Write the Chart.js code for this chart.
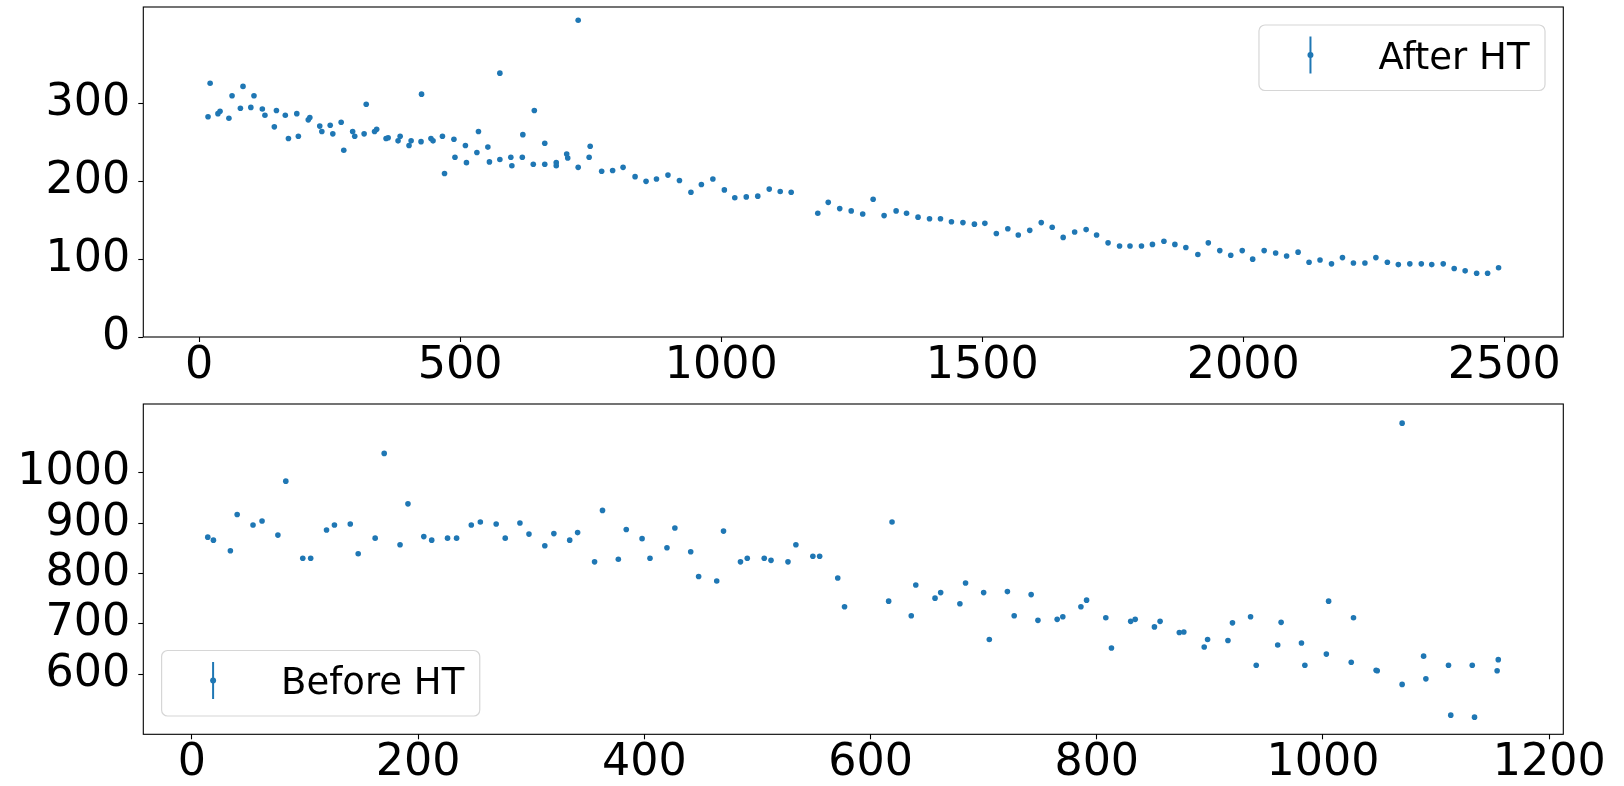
<!DOCTYPE html>
<html>
<head>
<meta charset="utf-8">
<script src="https://cdn.jsdelivr.net/npm/chart.js@4/dist/chart.umd.min.js"></script>
<style>
  html, body { margin: 0; padding: 0; background: #fff; }
  .panel { position: absolute; left: 0; width: 1624px; height: 393px; }
  #top-panel { top: 0; }
  #bottom-panel { top: 393px; }
</style>
</head>
<body>
<div class="panel" id="top-panel"><canvas id="afterChart" width="1624" height="393"></canvas></div>
<div class="panel" id="bottom-panel"><canvas id="beforeChart" width="1624" height="393"></canvas></div>
<script>
// After HT (top panel)
const afterX = [17,21,36,40,57,63,79,84,99,105,121,126,144,148,165,171,187,190,209,212,
  231,235,251,256,272,277,294,298,316,320,336,340,358,362,381,385,402,406,425,426,
  444,448,466,470,488,490,510,512,532,535,553,556,576,576,597,599,619,620,640,642,
  662,662,684,684,704,706,726,726,747,749,771,792,812,835,856,876,898,920,942,962,
  984,1006,1026,1048,1070,1092,1113,1134,1185,1205,1227,1249,1271,1291,1312,1335,1355,1377,1399,1420,
  1441,1463,1485,1505,1527,1549,1569,1591,1613,1634,1655,1677,1699,1719,1741,1763,1783,1805,1826,1848,
  1869,1890,1913,1933,1955,1976,1998,2018,2040,2062,2083,2105,2126,2147,2169,2190,2211,2233,2254,2276,
  2297,2319,2341,2361,2383,2404,2425,2447,2468,2489];
const afterY = [283,326,287,290,281,310,294,322,295,310,293,285,270,291,285,255,287,258,279,282,
  271,264,272,261,276,240,264,258,261,299,264,267,255,256,252,258,246,252,251,312,
  255,252,258,210,254,231,246,224,237,264,244,225,228,339,231,220,231,260,222,291,
  222,249,224,220,235,230,407,218,231,245,213,214,218,206,200,203,208,201,186,196,
  203,189,179,180,181,190,187,186,159,173,165,162,158,177,156,162,159,154,152,152,
  148,147,145,146,133,139,131,137,147,141,128,135,138,131,121,117,117,117,119,123,
  119,115,106,121,111,105,111,100,111,108,104,109,96,99,94,102,95,95,102,96,
  93,94,94,93,94,88,85,82,82,89];

// Before HT (bottom panel)
const beforeX = [14,19,34,40,54,62,76,83,98,105,119,126,140,147,162,170,184,191,205,212,
  226,234,247,255,269,277,290,298,312,320,334,341,356,363,377,384,398,405,420,427,
  441,448,464,470,485,491,506,512,527,534,549,555,571,577,616,619,636,640,657,662,
  679,684,700,705,721,727,742,748,765,770,786,791,808,813,830,834,851,856,873,877,
  895,898,916,920,936,941,960,963,981,984,1003,1005,1025,1027,1047,1048,1070,1070,1089,1091,
  1111,1113,1132,1134,1154,1155];
const beforeY = [872,866,845,917,896,904,876,983,830,830,886,896,898,839,870,1038,857,938,873,866,
  870,870,896,902,898,870,900,878,855,879,866,881,823,925,828,887,869,830,851,890,
  843,794,785,884,823,830,830,826,823,857,834,834,791,734,745,902,716,777,751,762,
  740,781,762,669,764,716,758,707,709,714,734,747,712,652,705,709,694,705,683,684,
  654,669,667,702,714,618,658,703,662,618,640,745,624,712,608,607,1098,580,636,591,
  618,519,618,515,607,629];

// Tick labels
const afterXTicks = [0, 500, 1000, 1500, 2000, 2500];
const afterYTicks = [0, 100, 200, 300];
const beforeXTicks = [0, 200, 400, 600, 800, 1000, 1200];
const beforeYTicks = [600, 700, 800, 900, 1000];

const BLUE = '#1f77b4';
const FONT = 'DejaVu Sans';

// box around the axes + matplotlib-style errorbar legend
const frameLegend = {
  id: 'frameLegend',
  afterDraw(chart, args, opts) {
    const ctx = chart.ctx;
    const a = chart.chartArea;
    ctx.save();
    ctx.strokeStyle = '#000';
    ctx.lineWidth = 1.1;
    ctx.strokeRect(a.left, a.top, a.right - a.left, a.bottom - a.top);

    ctx.font = '37px "' + FONT + '"';
    const tw = ctx.measureText(opts.label).width;
    const w = 119.5 + tw + 15.5;
    const h = 65.5;
    const x = opts.corner === 'upper right' ? a.right - 18.3 - w : a.left + 18.3;
    const y = opts.corner === 'upper right' ? a.top + 18 : a.bottom - 18.3 - h;

    ctx.beginPath();
    ctx.roundRect(x, y, w, h, 6);
    ctx.fillStyle = 'rgba(255,255,255,0.8)';
    ctx.fill();
    ctx.strokeStyle = '#d6d6d6';
    ctx.lineWidth = 1.2;
    ctx.stroke();

    const mx = x + 51.5;
    ctx.strokeStyle = BLUE;
    ctx.lineWidth = 2;
    ctx.beginPath();
    ctx.moveTo(mx, y + 11.5);
    ctx.lineTo(mx, y + 48.5);
    ctx.stroke();
    ctx.fillStyle = BLUE;
    ctx.beginPath();
    ctx.arc(mx, y + 30, 3, 0, Math.PI * 2);
    ctx.fill();

    ctx.fillStyle = '#000';
    ctx.textBaseline = 'alphabetic';
    ctx.textAlign = 'left';
    ctx.fillText(opts.label, x + 119.5, y + 43.5);
    ctx.restore();
  }
};

const makeChart = (canvasId, xs, ys, xTicks, yTicks, xRange, yRange, padTop, xAxisHeight, legend) => {
  const points = xs.map((x, i) => ({ x: x, y: ys[i] }));
  const tickFont = { family: FONT, size: 44.4, lineHeight: 1 };
  const grid = {
    display: true,
    drawOnChartArea: false,
    drawTicks: true,
    tickLength: 5,
    tickColor: '#000',
    tickWidth: 1.1
  };
  const plain = (v) => String(v);
  return new Chart(document.getElementById(canvasId), {
    type: 'scatter',
    data: {
      datasets: [{
        data: points,
        backgroundColor: BLUE,
        borderWidth: 0,
        pointRadius: 2.8,
        pointHoverRadius: 2.8
      }]
    },
    options: {
      responsive: false,
      animation: false,
      layout: { padding: { top: padTop, right: 60.7, left: 0, bottom: 0 } },
      plugins: {
        legend: { display: false },
        tooltip: { enabled: false },
        frameLegend: legend
      },
      scales: {
        x: {
          type: 'linear',
          min: xRange[0],
          max: xRange[1],
          grid: grid,
          border: { display: false },
          ticks: { font: tickFont, color: '#000', padding: 2, autoSkip: false, maxRotation: 0, callback: plain },
          afterBuildTicks: (scale) => { scale.ticks = xTicks.map(v => ({ value: v })); },
          afterFit: (scale) => {
            scale.height = xAxisHeight;
            scale.paddingLeft = 0;
            scale.paddingRight = 0;
          }
        },
        y: {
          type: 'linear',
          min: yRange[0],
          max: yRange[1],
          grid: grid,
          border: { display: false },
          ticks: { font: tickFont, color: '#000', padding: 8, callback: plain },
          afterBuildTicks: (scale) => { scale.ticks = yTicks.map(v => ({ value: v })); },
          afterFit: (scale) => {
            scale.width = 143.3;
            scale.paddingTop = 0;
            scale.paddingBottom = 0;
          }
        }
      }
    },
    plugins: [frameLegend]
  });
};

makeChart('afterChart', afterX, afterY, afterXTicks, afterYTicks,
  [-107, 2613], [0, 424], 7, 56, { label: 'After HT', corner: 'upper right' });
makeChart('beforeChart', beforeX, beforeY, beforeXTicks, beforeYTicks,
  [-43, 1212.5], [481, 1136], 11, 51.7, { label: 'Before HT', corner: 'lower left' });
</script>
</body>
</html>
